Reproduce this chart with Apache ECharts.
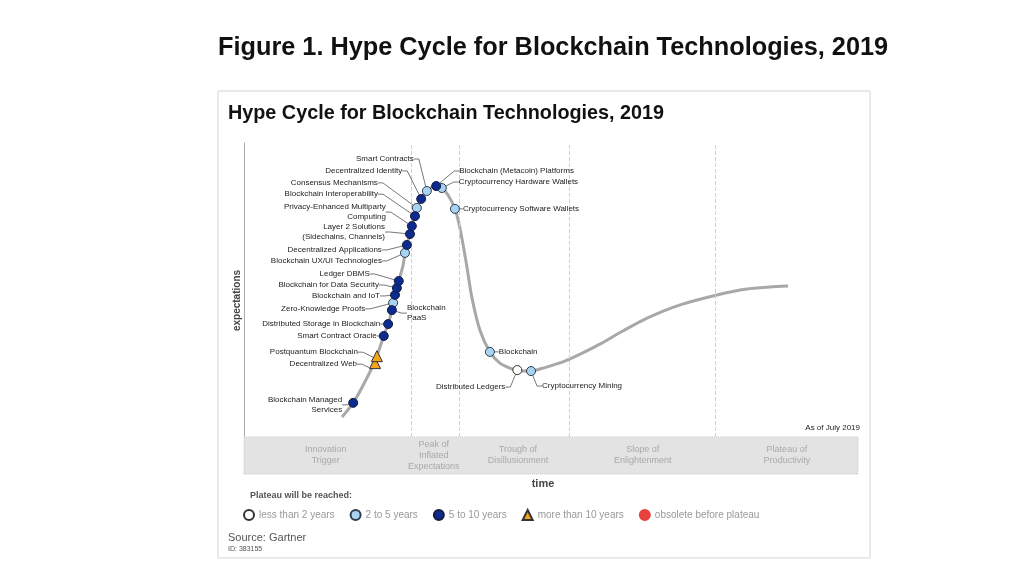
<!DOCTYPE html>
<html>
<head>
<meta charset="utf-8">
<script src="https://cdn.jsdelivr.net/npm/echarts@6/dist/echarts.min.js"></script>
<style>
html,body{margin:0;padding:0;background:#fff;}
#chart{width:1024px;height:576px;}
</style>
</head>
<body>
<div id="chart"></div>
<script>
// ---- Data (time / expectations in 0..100 units) ----
const curveX = [15.7,17.5,19.2,21.0,22.4,23.1,23.7,24.2,24.8,25.5,25.8,26.1,26.6,26.9,27.4,27.7,28.4,29.3,30.8,31.7,32.7,33.8,34.6,35.6,36.5,37.8,39.4,41.0,42.6,43.8,44.9,46.0,47.4,49.0,51.4,54.3,57.1,60.7,64.6,69.9,75.8,80.6,84.3,87.2];
const curveY = [17.2,21.5,27.2,34.1,41.7,45.3,49.5,54.1,58.3,63.1,66.8,69.2,72.5,74.9,77.9,80.4,83.1,85.5,87.0,86.4,84.3,80.1,74.3,64.0,53.5,43.5,36.9,33.5,32.0,31.4,31.1,31.1,31.7,32.6,34.1,36.6,39.3,43.2,47.1,51.1,54.1,55.9,56.5,56.8];

const techNames = [
  'Blockchain Managed\nServices','Decentralized Web','Postquantum Blockchain','Smart Contract Oracle',
  'Distributed Storage in Blockchain','Blockchain\nPaaS','Zero-Knowledge Proofs','Blockchain and IoT',
  'Blockchain for Data Security','Ledger DBMS','Blockchain UX/UI Technologies','Decentralized Applications',
  'Layer 2 Solutions\n(Sidechains, Channels)','Privacy-Enhanced Multiparty\nComputing','Blockchain Interoperability',
  'Consensus Mechanisms','Decentralized Identity','Smart Contracts','Blockchain (Metacoin) Platforms',
  'Cryptocurrency Hardware Wallets','Cryptocurrency Software Wallets','Blockchain','Distributed Ledgers',
  'Cryptocurrency Mining'
];
const techX = [17.5,21.0,21.3,22.4,23.1,23.7,23.9,24.2,24.5,24.8,25.8,26.1,26.6,26.9,27.4,27.7,28.4,29.3,30.8,31.7,33.8,39.4,43.8,46.0];
const techY = [21.5,33.5,35.6,41.7,45.3,49.5,51.7,54.1,56.2,58.3,66.8,69.2,72.5,74.9,77.9,80.4,83.1,85.5,87.0,86.4,80.1,36.9,31.4,31.1];
const techGroup = ['5to10','gt10','gt10','5to10','5to10','5to10','2to5','5to10','5to10','5to10','2to5','5to10',
  '5to10','5to10','5to10','2to5','5to10','2to5','5to10','2to5','2to5','2to5','lt2','2to5'];

const groupKeys = ['lt2','2to5','5to10','gt10','obs'];
const groupNames = ['less than 2 years','2 to 5 years','5 to 10 years','more than 10 years','obsolete before plateau'];

const phaseNames = ['Innovation\nTrigger','Peak of\nInflated\nExpectations','Trough of\nDisillusionment','Slope of\nEnlightenment','Plateau of\nProductivity'];
const phaseCenters = [13.1,30.4,43.9,63.9,87.0];
const phaseBoundaries = [26.8,34.5,52.2,75.6];
const bandTop = 11.2;
const bandRight = 98.4;

// ---- Layout (label offsets from marker, px) ----
const labelOffsets = {
  'Smart Contracts':[-13,-32,'right'],
  'Decentralized Identity':[-19,-28,'right'],
  'Consensus Mechanisms':[-39,-25,'right'],
  'Blockchain Interoperability':[-37,-22,'right'],
  'Privacy-Enhanced Multiparty\nComputing':[-26,-14,'right'],
  'Layer 2 Solutions\n(Sidechains, Channels)':[-25,-2,'right'],
  'Decentralized Applications':[-25,5,'right'],
  'Blockchain UX/UI Technologies':[-23,8,'right'],
  'Ledger DBMS':[-29,-7,'right'],
  'Blockchain for Data Security':[-18,-3,'right'],
  'Blockchain and IoT':[-15,1,'right'],
  'Zero-Knowledge Proofs':[-28,6,'right'],
  'Blockchain\nPaaS':[15,3,'left'],
  'Distributed Storage in Blockchain':[-8,0,'right'],
  'Smart Contract Oracle':[-7,0,'right'],
  'Postquantum Blockchain':[-19,-4,'right'],
  'Decentralized Web':[-18,1,'right'],
  'Blockchain Managed\nServices':[-11,2,'right'],
  'Blockchain (Metacoin) Platforms':[23,-15,'left'],
  'Cryptocurrency Hardware Wallets':[17,-6,'left'],
  'Cryptocurrency Software Wallets':[8,0,'left'],
  'Blockchain':[9,0,'left'],
  'Distributed Ledgers':[-12,17,'right'],
  'Cryptocurrency Mining':[11,15,'left']
};

const groupStyle = {
  lt2:  {symbol:'circle', size:9, color:'#ffffff', border:'#333333'},
  '2to5': {symbol:'circle', size:9, color:'#a9d3f0', border:'#2d3e50'},
  '5to10': {symbol:'circle', size:9, color:'#0b2c8e', border:'#1a1a40'},
  gt10: {symbol:'triangle', size:11, color:'#f5a21d', border:'#333333'},
  obs:  {symbol:'circle', size:9, color:'#e8413c', border:'#e8413c'}
};

const FONT = 'Liberation Sans, Arial, sans-serif';

const chart = echarts.init(document.getElementById('chart'), null, {renderer:'canvas'});

function labelLayoutFn(params){
  const off = labelOffsets[params.text];
  if(!off) return {};
  const cx = params.rect.x + params.rect.width/2;
  const cy = params.rect.y + params.rect.height/2;
  return {x: cx + off[0], y: cy + off[1], align: off[2], verticalAlign: 'middle'};
}

const techSeries = groupKeys.map((k, gi) => {
  const st = groupStyle[k];
  const data = [];
  techNames.forEach((n, i) => {
    if (techGroup[i] === k) data.push({name: n, value: [techX[i], techY[i]]});
  });
  return {
    type: 'scatter',
    name: groupNames[gi],
    symbol: st.symbol,
    symbolSize: st.size,
    z: 5,
    itemStyle: {color: st.color, borderColor: st.border, borderWidth: 1, opacity: 1},
    label: {show: true, formatter: '{b}', fontSize: 8, lineHeight: 10, color: '#222', fontFamily: FONT},
    labelLine: {show: true, length2: 5, lineStyle: {color: '#555', width: 0.8}},
    labelLayout: labelLayoutFn,
    emphasis: {disabled: true},
    data: data
  };
});

const option = {
  backgroundColor: '#ffffff',
  animation: false,
  textStyle: {fontFamily: FONT},
  title: [
    {text: 'Figure 1. Hype Cycle for Blockchain Technologies, 2019', left: 218, top: 36, padding: 0,
     textStyle: {fontSize: 25.3, fontWeight: 'bold', color: '#111', fontFamily: FONT}},
    {text: 'Hype Cycle for Blockchain Technologies, 2019', left: 228, top: 104, padding: 0,
     textStyle: {fontSize: 19.8, fontWeight: 'bold', color: '#111', fontFamily: FONT}},
    {text: 'As of July 2019', right: 164, top: 424, padding: 0,
     textStyle: {fontSize: 8, fontWeight: 'normal', color: '#222', fontFamily: FONT}},
    {text: 'Plateau will be reached:', left: 250, top: 491, padding: 0,
     textStyle: {fontSize: 9, fontWeight: 'bold', color: '#555', fontFamily: FONT}},
    {text: 'Source: Gartner', left: 228, top: 532, padding: 0,
     textStyle: {fontSize: 11, fontWeight: 'normal', color: '#555', fontFamily: FONT}},
    {text: 'ID: 383155', left: 228, top: 546, padding: 0,
     textStyle: {fontSize: 7, fontWeight: 'normal', color: '#555', fontFamily: FONT}}
  ],
  graphic: [
    {type: 'rect', shape: {x: 218, y: 91, width: 652, height: 467}, style: {fill: 'none', stroke: '#d4d4d4', lineWidth: 1}, z: -1}
  ],
  legend: {
    data: groupNames.map((n, i) => ({name: n, icon: groupStyle[groupKeys[i]].symbol})),
    left: 238, top: 504, itemWidth: 10, itemHeight: 10, itemGap: 15,
    selectedMode: false,
    textStyle: {fontSize: 10, color: '#999', fontFamily: FONT}
  },
  grid: {left: 244, top: 143, width: 624, height: 331},
  xAxis: {
    type: 'value', min: 0, max: 100,
    name: 'time', nameLocation: 'middle', nameGap: 4,
    nameTextStyle: {fontSize: 11, fontWeight: 'bold', color: '#444', padding: [0, 26, 0, 0]},
    axisLine: {show: false}, axisTick: {show: false}, axisLabel: {show: false}, splitLine: {show: false}
  },
  yAxis: {
    type: 'value', min: 0, max: 100,
    name: 'expectations', nameLocation: 'middle', nameGap: 2, nameRotate: 90,
    nameTextStyle: {fontSize: 10, fontWeight: 'bold', color: '#444', padding: [0, 0, 0, 16]},
    axisLine: {show: true, lineStyle: {color: '#aaa', width: 1}},
    axisTick: {show: false}, axisLabel: {show: false}, splitLine: {show: false}
  },
  series: [
    {
      type: 'line', name: 'curve', smooth: 0.25, symbol: 'none', z: 2,
      lineStyle: {color: '#a8a8a8', width: 3},
      data: curveX.map((x, i) => [x, curveY[i]]),
      markArea: {
        silent: true,
        itemStyle: {color: '#e3e3e3', borderColor: '#c8c8c8', borderWidth: 1, borderType: 'dotted'},
        data: [[{coord: [0, 0]}, {coord: [bandRight, bandTop]}]]
      },
      markLine: {
        silent: true, symbol: 'none', label: {show: false},
        lineStyle: {color: '#d0d0d0', width: 1, type: 'dashed'},
        data: phaseBoundaries.map(b => [{coord: [b, bandTop]}, {coord: [b, 100]}])
      }
    },
    {
      type: 'scatter', name: 'phases', symbolSize: 0, z: 3, silent: true,
      label: {show: true, position: 'inside', formatter: '{b}', fontSize: 9, lineHeight: 11, color: '#9a9a9a', fontFamily: FONT},
      data: phaseNames.map((n, i) => ({name: n, value: [phaseCenters[i], bandTop / 2]}))
    }
  ].concat(techSeries)
};

chart.setOption(option);
</script>
</body>
</html>
